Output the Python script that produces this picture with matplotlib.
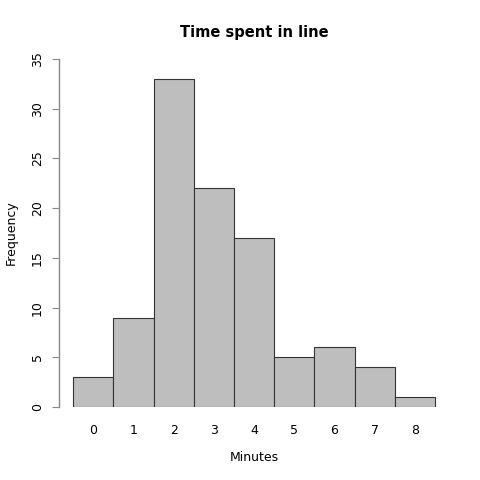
import matplotlib
matplotlib.use("Agg")
import matplotlib.pyplot as plt

minutes = [0, 1, 2, 3, 4, 5, 6, 7, 8]
frequency = [3, 9, 33, 22, 17, 5, 6, 4, 1]
yticks = [0, 5, 10, 15, 20, 25, 30, 35]

fig = plt.figure(figsize=(4.8, 4.8), dpi=100)
ax = fig.add_axes([59/480, 73/480, 391/480, 348/480])
ax.bar(minutes, frequency, width=1.0, color="#bebebe", edgecolor="#333333", linewidth=0.8)
ax.set_xlim(-0.85, 8.87)
ax.set_ylim(0, 35)
for s in ["top", "right", "bottom"]:
    ax.spines[s].set_visible(False)
ax.spines["left"].set_color("#888888")
ax.spines["left"].set_linewidth(1.0)
ax.set_yticks(yticks)
ax.set_yticklabels([str(v) for v in yticks], rotation=90, va="center", fontsize=9)
ax.tick_params(axis="y", length=5, color="#888888", pad=6)
ax.set_xticks(minutes)
ax.set_xticklabels([str(m) for m in minutes], fontsize=9)
ax.tick_params(axis="x", length=0, pad=12)
ax.set_xlabel("Minutes", fontsize=9, labelpad=10)
ax.set_ylabel("Frequency", fontsize=9, labelpad=9)
ax.set_title("Time spent in line", fontsize=10.5, fontweight="bold", pad=16)
fig.savefig("out.png", dpi=100)
